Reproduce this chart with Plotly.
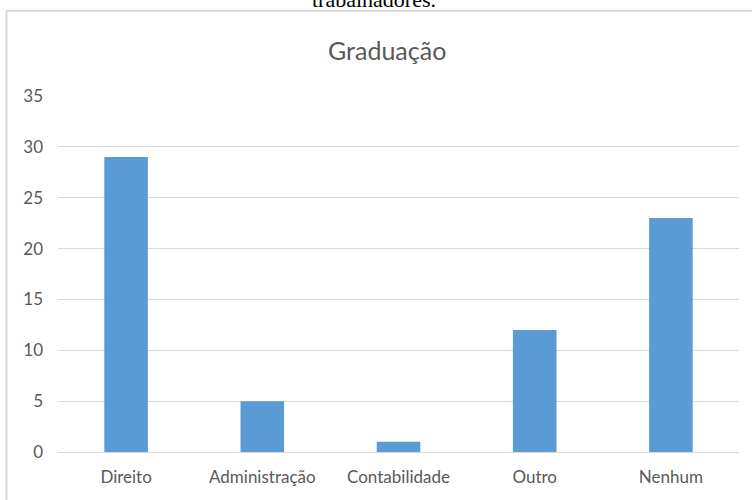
import plotly.graph_objects as go

# Data
categories = ['Direito', 'Administração', 'Contabilidade', 'Outro', 'Nenhum']
values = [29, 5, 1, 12, 23]
y_ticks = [0, 5, 10, 15, 20, 25, 30, 35]

BAR_COLOR = '#5b9bd5'
TEXT_COLOR = '#595959'
GRID_COLOR = '#d9d9d9'
FONT = 'Lato, Open Sans, sans-serif'

fig = go.Figure(go.Bar(x=categories, y=values, marker_color=BAR_COLOR,
                       marker_line_width=0))

fig.update_layout(
    width=752, height=500,
    margin=dict(l=58, r=13, t=96, b=48, autoexpand=False),
    paper_bgcolor='white', plot_bgcolor='white',
    bargap=0.68,
    showlegend=False,
    font=dict(family=FONT, color=TEXT_COLOR, size=17),
)
fig.update_yaxes(range=[0, 35], tickvals=y_ticks, showgrid=True, gridcolor=GRID_COLOR,
                 gridwidth=1, zeroline=False, showline=False, ticks='',
                 ticklabelstandoff=14, tickfont=dict(size=17, color=TEXT_COLOR))
fig.update_xaxes(showline=True, linecolor=GRID_COLOR, linewidth=1, ticks='',
                 tickfont=dict(size=17, color=TEXT_COLOR), ticklabelstandoff=10)

# Chart frame (left and top edges visible in the crop)
fig.add_shape(type='line', xref='paper', yref='paper', x0=-0.0756, x1=-0.0756,
              y0=1.2398, y1=-0.2, line=dict(color=GRID_COLOR, width=2))
fig.add_shape(type='line', xref='paper', yref='paper', x0=-0.0756, x1=1.03,
              y0=1.2398, y1=1.2398, line=dict(color=GRID_COLOR, width=2))

# Title
fig.add_annotation(text='Graduação', xref='paper', yref='paper', x=0.483, y=1.13,
                   xanchor='center', yanchor='middle', showarrow=False,
                   font=dict(family=FONT, size=25, color=TEXT_COLOR))

# Caption text cut off at top of the page
fig.add_annotation(text='trabalhadores.', xref='paper', yref='paper', x=0.464, y=1.271,
                   xanchor='center', yanchor='middle', showarrow=False,
                   font=dict(family='Liberation Serif, serif', size=22, color='black'))

fig.write_html('out.html', config={'displayModeBar': False},
               post_script="document.body.style.margin='0';"
                           "document.body.style.overflow='hidden';")
